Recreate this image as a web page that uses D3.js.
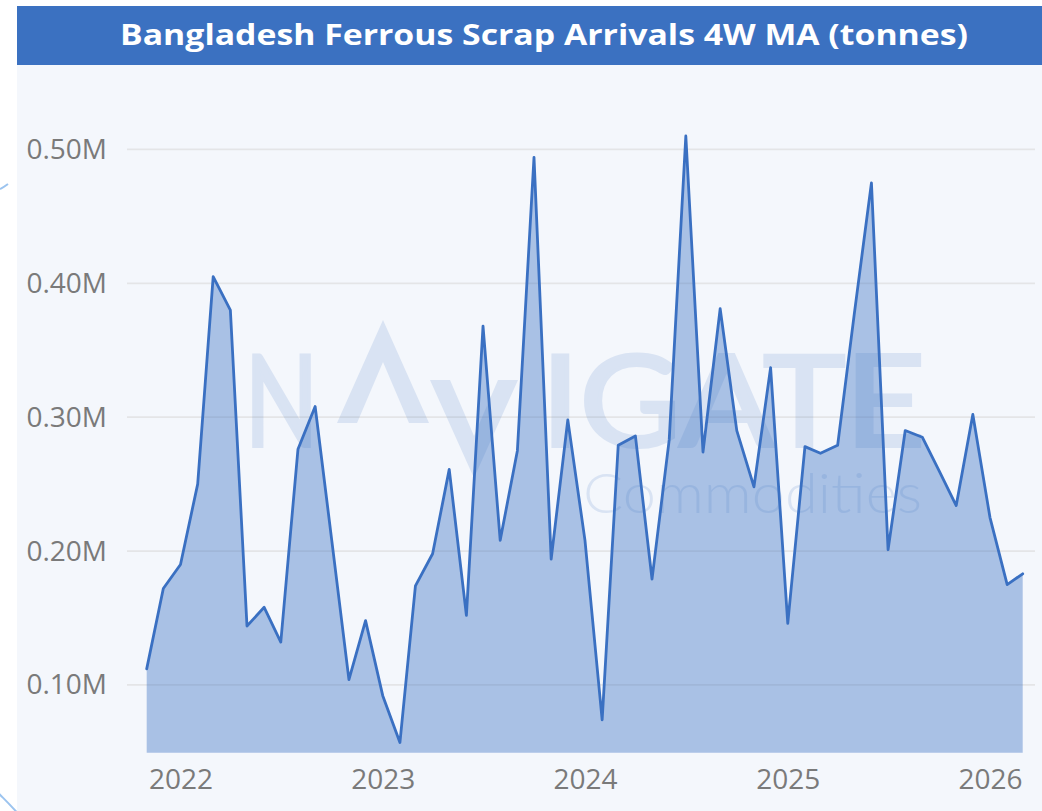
<!DOCTYPE html>
<html>
<head>
<meta charset="utf-8">
<script src="https://cdn.jsdelivr.net/npm/d3@7"></script>
<style>
  html, body { margin: 0; padding: 0; background: #ffffff; }
  svg { display: block; }
</style>
</head>
<body>
<svg id="chart" width="1042" height="811"></svg>
<script>
// Monthly 4-week moving average of ferrous scrap arrivals, Bangladesh (tonnes)
const months = [
  "2021-11","2021-12",
  "2022-01","2022-02","2022-03","2022-04","2022-05","2022-06",
  "2022-07","2022-08","2022-09","2022-10","2022-11","2022-12",
  "2023-01","2023-02","2023-03","2023-04","2023-05","2023-06",
  "2023-07","2023-08","2023-09","2023-10","2023-11","2023-12",
  "2024-01","2024-02","2024-03","2024-04","2024-05","2024-06",
  "2024-07","2024-08","2024-09","2024-10","2024-11","2024-12",
  "2025-01","2025-02","2025-03","2025-04","2025-05","2025-06",
  "2025-07","2025-08","2025-09","2025-10","2025-11","2025-12",
  "2026-01","2026-02","2026-03"
];
const arrivals = [
  112000, 172000,
  190000, 250000, 405000, 380000, 144000, 158000,
  132000, 276000, 308000, 208000, 104000, 148000,
  92000, 57000, 174000, 198000, 261000, 152000,
  368000, 208000, 275000, 494000, 194000, 298000,
  208000, 74000, 279000, 286000, 179000, 283000,
  510000, 274000, 381000, 290000, 248000, 337000,
  146000, 278000, 273000, 279000, 377000, 475000,
  201000, 290000, 285000, 260000, 234000, 302000,
  225000, 175000, 183000
];
const yearTicks = ["2022", "2023", "2024", "2025", "2026"];
const valueTicks = [100000, 200000, 300000, 400000, 500000];

const titleText = "Bangladesh Ferrous Scrap Arrivals 4W MA (tonnes)";

const parseMonth = d3.utcParse("%Y-%m");
const parseYear = d3.utcParse("%Y");
const data = months.map((m, i) => ({ date: parseMonth(m), value: arrivals[i] }));

const svg = d3.select("#chart");
const lineColor = "#3a70c2";
const labelFont = "'Open Sans', 'Noto Sans', sans-serif";

// decorative background rings peeking out left of the panel
const deco = svg.append("g").attr("fill", "none").attr("stroke", "#9cc4ef").attr("stroke-width", 2);
deco.append("circle").attr("cx", -300).attr("cy", 1100).attr("r", 428);
deco.append("path").attr("d", "M0,189 Q4,187 8,184");

// panel + title bar
svg.append("rect").attr("x", 17).attr("y", 65).attr("width", 1025).attr("height", 746).attr("fill", "#f4f7fc");
svg.append("rect").attr("x", 17).attr("y", 6).attr("width", 1025).attr("height", 59).attr("fill", "#3b71c1");
svg.append("text")
  .attr("x", 544).attr("y", 45)
  .attr("text-anchor", "middle")
  .attr("fill", "#ffffff")
  .attr("font-family", labelFont)
  .attr("font-weight", 700)
  .attr("font-size", 28)
  .attr("textLength", 848)
  .attr("lengthAdjust", "spacingAndGlyphs")
  .text(titleText);

// scales
const x = d3.scaleUtc()
  .domain([parseMonth(months[0]), parseMonth(months[months.length - 1])])
  .range([146.7, 1022.7]);
const y = d3.scaleLinear()
  .domain([49400, 500000])
  .range([752.7, 149.4]);

const gridLeft = 127, gridRight = 1035;

// horizontal gridlines
svg.append("g")
  .selectAll("line")
  .data(valueTicks)
  .join("line")
  .attr("x1", gridLeft).attr("x2", gridRight)
  .attr("y1", d => y(d)).attr("y2", d => y(d))
  .attr("stroke", "#e4e5e7")
  .attr("stroke-width", 1.8);

// y axis labels
const yAxis = d3.axisLeft(y)
  .tickValues(valueTicks)
  .tickSize(0)
  .tickPadding(20)
  .tickFormat(d => (d / 1e6).toFixed(2) + "M");
const gy = svg.append("g").attr("transform", `translate(${gridLeft},0)`).call(yAxis);
gy.select(".domain").remove();
gy.selectAll("text")
  .attr("fill", "#7a7a7a")
  .attr("font-family", labelFont)
  .attr("font-size", 28);

// x axis labels
const xAxis = d3.axisBottom(x)
  .tickValues(yearTicks.map(parseYear))
  .tickSize(0)
  .tickPadding(16)
  .tickFormat(d3.utcFormat("%Y"));
const gx = svg.append("g").attr("transform", `translate(0,${y.range()[0]})`).call(xAxis);
gx.select(".domain").remove();
gx.selectAll("text")
  .attr("fill", "#7a7a7a")
  .attr("font-family", labelFont)
  .attr("font-size", 28);

// filled area
const area = d3.area()
  .x(d => x(d.date))
  .y0(y(y.domain()[0]))
  .y1(d => y(d.value));
svg.append("path")
  .datum(data)
  .attr("d", area)
  .attr("fill", lineColor)
  .attr("fill-opacity", 0.4);

// watermark logo
const wm = svg.append("g").attr("fill", lineColor).attr("opacity", 0.14);
const logoFont = "Lato, 'Open Sans', sans-serif";
wm.append("text")
  .attr("x", 245).attr("y", 446)
  .attr("font-family", logoFont)
  .attr("font-size", 126)
  .attr("stroke", lineColor)
  .attr("stroke-width", 4)
  .attr("textLength", 73)
  .attr("lengthAdjust", "spacingAndGlyphs")
  .text("N");
wm.append("path")
  .attr("fill-rule", "evenodd")
  .attr("d", "M337,423 L383,320 L429,423 Z M357,423 L383,362 L409,423 Z");
wm.append("path")
  .attr("fill-rule", "evenodd")
  .attr("d", "M430,380 L518,380 L474,478 Z M450,380 L498,380 L474,436 Z");
wm.append("text")
  .attr("x", 541).attr("y", 446)
  .attr("font-family", logoFont)
  .attr("font-size", 126)
  .attr("stroke", lineColor)
  .attr("stroke-width", 4)
  .attr("textLength", 384)
  .attr("lengthAdjust", "spacingAndGlyphs")
  .text("IGATE");
wm.append("text")
  .attr("x", 583).attr("y", 513)
  .attr("font-family", logoFont)
  .attr("font-weight", 300)
  .attr("font-size", 56)
  .attr("textLength", 339)
  .attr("lengthAdjust", "spacingAndGlyphs")
  .text("Commodities");

// line
const line = d3.line()
  .x(d => x(d.date))
  .y(d => y(d.value));
svg.append("path")
  .datum(data)
  .attr("d", line)
  .attr("fill", "none")
  .attr("stroke", lineColor)
  .attr("stroke-width", 2.8)
  .attr("stroke-linejoin", "round")
  .attr("stroke-linecap", "round");
</script>
</body>
</html>
